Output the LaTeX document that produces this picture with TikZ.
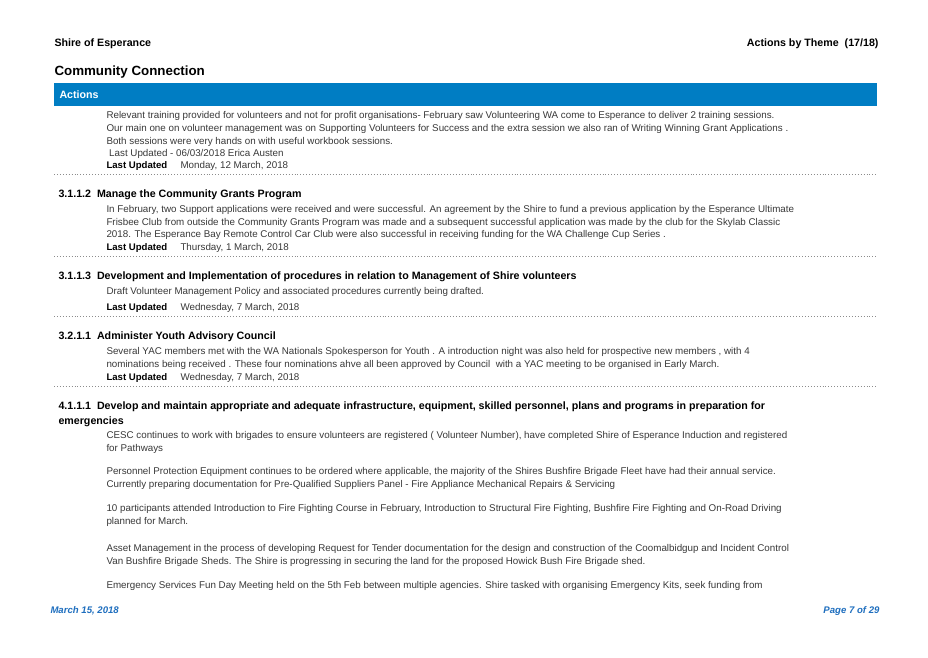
\documentclass[tikz,border=0pt]{standalone}
\usepackage{fontspec}
\setmainfont{Liberation Sans}
\definecolor{barblue}{RGB}{0,125,195}
\definecolor{linkblue}{RGB}{30,110,190}
\tikzset{every picture/.style={line width=0.75pt}}
\tikzset{
  body/.style={anchor=base west,inner sep=0pt,font=\fontsize{7.35}{8}\selectfont,text=black!78},
  lu/.style={anchor=base west,inner sep=0pt,font=\fontsize{7.2}{8}\selectfont\bfseries},
  head/.style={anchor=base west,inner sep=0pt,font=\fontsize{8}{9}\selectfont\bfseries},
  sep/.style={black!45,line width=0.5pt,dash pattern=on 0.6pt off 1.6pt}
}
\begin{document}
\begin{tikzpicture}[x=0.75pt,y=0.75pt,yscale=-1,xscale=1]
\useasboundingbox (0,0) rectangle (928,657);

% Page header
\node[head] (org) at (54,46) {Shire of Esperance};
\node[head,anchor=base east] (theme) at (879,46) {Actions by Theme\ \ (17/18)};
\node[anchor=base west,inner sep=0pt,font=\fontsize{10}{11}\selectfont\bfseries] (title) at (54,75) {Community Connection};

%Bar
\fill[barblue] (54,83) rectangle (877,106);
\node[anchor=base west,inner sep=0pt,text=white,font=\fontsize{8}{9}\selectfont\bfseries] (bar) at (59,98) {Actions};

% Text Node
\node[body] (a1) at (106,118) {Relevant training provided for volunteers and not for profit organisations- February saw Volunteering WA come to Esperance to deliver 2 training sessions.};
\node[body] (a2) at (106,131) {Our main one on volunteer management was on Supporting Volunteers for Success and the extra session we also ran of Writing Winning Grant Applications .};
\node[body] (a3) at (106,144) {Both sessions were very hands on with useful workbook sessions.};
\node[body] (a4) at (106,156) {\ Last Updated - 06/03/2018 Erica Austen};
\node[lu] (alu) at (106,168) {Last Updated};
\node[body] (ad) at (180,168) {Monday, 12 March, 2018};
\draw[sep] (54,174) -- (877,174);

% 3.1.1.2
\node[head] (h2) at (58,197) {3.1.1.2\ \ Manage the Community Grants Program};
\node[body] (b1) at (106,212) {In February, two Support applications were received and were successful. An agreement by the Shire to fund a previous application by the Esperance Ultimate};
\node[body] (b2) at (106,225) {Frisbee Club from outside the Community Grants Program was made and a subsequent successful application was made by the club for the Skylab Classic};
\node[body] (b3) at (106,237) {2018. The Esperance Bay Remote Control Car Club were also successful in receiving funding for the WA Challenge Cup Series .};
\node[lu] (blu) at (106,250) {Last Updated};
\node[body] (bd) at (180,250) {Thursday, 1 March, 2018};
\draw[sep] (54,256) -- (877,256);

% 3.1.1.3
\node[head] (h3) at (58,279) {3.1.1.3\ \ Development and Implementation of procedures in relation to Management of Shire volunteers};
\node[body] (c1) at (106,294) {Draft Volunteer Management Policy and associated procedures currently being drafted.};
\node[lu] (clu) at (106,310) {Last Updated};
\node[body] (cd) at (180,310) {Wednesday, 7 March, 2018};
\draw[sep] (54,316) -- (877,316);

% 3.2.1.1
\node[head] (h4) at (58,339) {3.2.1.1\ \ Administer Youth Advisory Council};
\node[body] (d1) at (106,354) {Several YAC members met with the WA Nationals Spokesperson for Youth . A introduction night was also held for prospective new members , with 4};
\node[body] (d2) at (106,367) {nominations being received . These four nominations ahve all been approved by Council\ \ with a YAC meeting to be organised in Early March.};
\node[lu] (dlu) at (106,380) {Last Updated};
\node[body] (dd) at (180,380) {Wednesday, 7 March, 2018};
\draw[sep] (54,386) -- (877,386);

% 4.1.1.1
\node[head] (h5) at (58,409) {4.1.1.1\ \ Develop and maintain appropriate and adequate infrastructure, equipment, skilled personnel, plans and programs in preparation for};
\node[head] (h5b) at (58,424) {emergencies};
\node[body] (e1) at (106,438) {CESC continues to work with brigades to ensure volunteers are registered ( Volunteer Number), have completed Shire of Esperance Induction and registered};
\node[body] (e2) at (106,451) {for Pathways};
\node[body] (e3) at (106,474) {Personnel Protection Equipment continues to be ordered where applicable, the majority of the Shires Bushfire Brigade Fleet have had their annual service.};
\node[body] (e4) at (106,487) {Currently preparing documentation for Pre-Qualified Suppliers Panel - Fire Appliance Mechanical Repairs \& Servicing};
\node[body] (e5) at (106,511) {10 participants attended Introduction to Fire Fighting Course in February, Introduction to Structural Fire Fighting, Bushfire Fire Fighting and On-Road Driving};
\node[body] (e6) at (106,524) {planned for March.};
\node[body] (e7) at (106,551) {Asset Management in the process of developing Request for Tender documentation for the design and construction of the Coomalbidgup and Incident Control};
\node[body] (e8) at (106,564) {Van Bushfire Brigade Sheds. The Shire is progressing in securing the land for the proposed Howick Bush Fire Brigade shed.};
\node[body] (e9) at (106,588) {Emergency Services Fun Day Meeting held on the 5th Feb between multiple agencies. Shire tasked with organising Emergency Kits, seek funding from};

% Footer
\node[anchor=base west,inner sep=0pt,text=linkblue,font=\fontsize{7.2}{8}\selectfont\bfseries\itshape] (date) at (50,613) {March 15, 2018};
\node[anchor=base east,inner sep=0pt,text=linkblue,font=\fontsize{7.2}{8}\selectfont\bfseries\itshape] (page) at (880,613) {Page 7 of 29};
\end{tikzpicture}
\end{document}
